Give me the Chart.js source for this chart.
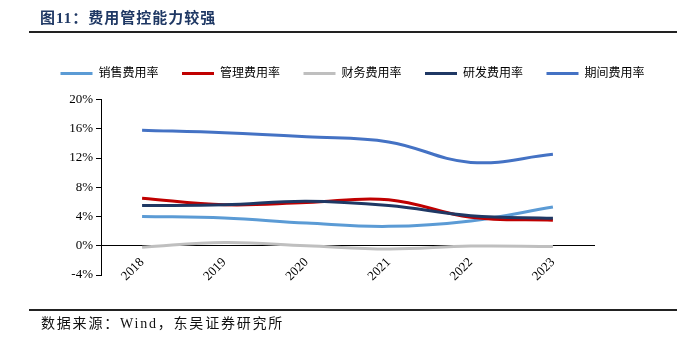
<!DOCTYPE html>
<html><head><meta charset="utf-8">
<script src="https://cdn.jsdelivr.net/npm/chart.js@4"></script>
<style>
html,body{margin:0;padding:0;background:#fff;}
#wrap{position:relative;width:677px;height:350px;overflow:hidden;}
#c{position:absolute;left:0;top:0;}
#title{position:absolute;left:40px;top:6px;font:bold 15px "Liberation Serif","Noto Sans CJK SC";letter-spacing:1px;color:#1F3864;white-space:nowrap;}
#l1{position:absolute;left:29px;top:31px;width:648px;height:2px;background:#222;}
#l2{position:absolute;left:29px;top:309px;width:648px;height:2px;background:#222;}
#foot{position:absolute;left:41px;top:312px;font:14px "Liberation Serif","Noto Sans CJK SC";letter-spacing:1.8px;color:#111;white-space:nowrap;}
</style></head>
<body><div id="wrap">
<canvas id="c" width="677" height="350"></canvas>
<div id="title">图11：费用管控能力较强</div>
<div id="l1"></div>
<div id="foot">数据来源：Wind，东吴证券研究所</div>
<div id="l2"></div>
</div>
<script>
const categories = ['2018','2019','2020','2021','2022','2023'];
const seriesNames = ['销售费用率','管理费用率','财务费用率','研发费用率','期间费用率'];
const salesRate   = [4.0, 3.8, 3.1, 2.65, 3.4, 5.3];
const adminRate   = [6.5, 5.6, 5.9, 6.3, 3.9, 3.5];
const financeRate = [-0.2, 0.45, 0.0, -0.45, -0.05, -0.1];
const rdRate      = [5.5, 5.6, 6.1, 5.5, 4.1, 3.75];
const periodRate  = [15.8, 15.45, 14.9, 14.2, 11.4, 12.5];
const yTicks = [-4, 0, 4, 8, 12, 16, 20];
const colors = ['#5B9BD5','#C00000','#BFBFBF','#1F3864','#4472C4'];
const values = [salesRate, adminRate, financeRate, rdRate, periodRate];

const font = '"Liberation Serif","Noto Sans CJK SC"';
const datasets = values.map((v,i)=>({
  label: seriesNames[i], data: v, borderColor: colors[i], backgroundColor: colors[i],
  borderWidth: 3, pointRadius: 0, tension: 0.4, fill: false, order: 10 - i, yAxisID: 'y'
}));

new Chart(document.getElementById('c'), {
  type: 'line',
  data: { labels: categories, datasets },
  options: {
    responsive: false, animation: false,
    layout: { padding: { left: 37, right: 0, top: 44, bottom: 75 } },
    plugins: {
      tooltip: { enabled: false },
      title: { display: false },
      subtitle: { display: true, text: '', position: 'top', weight: 500,
                  font: { size: 1, lineHeight: 1 }, padding: { top: 0, bottom: 9 } },
      legend: {
        position: 'top', align: 'start',
        labels: {
          boxWidth: 32, boxHeight: 3, padding: 23.5, color: '#000',
          font: { family: font, size: 12 },
          sort: (a,b)=>a.datasetIndex-b.datasetIndex,
          generateLabels: (chart)=>{
            const items = Chart.defaults.plugins.legend.labels.generateLabels(chart);
            items.forEach(it=>{ it.lineWidth = 0; it.fillStyle = it.strokeStyle; });
            return items;
          }
        }
      }
    },
    scales: {
      x: {
        position: { y: 0 }, offset: true,
        grid: { display: false },
        border: { display: true, color: '#000', width: 1 },
        ticks: { color: '#000', font: { family: font, size: 13 }, minRotation: 45, maxRotation: 45, padding: 1 }
      },
      y: {
        position: 'left', min: -4, max: 20,
        afterBuildTicks: (s)=>{ s.ticks = yTicks.map(v=>({value:v})); },
        afterFit: (s)=>{ s.width = 64; },
        grid: { drawOnChartArea: false, color: '#000', tickLength: 5 },
        border: { display: true, color: '#000', width: 1 },
        ticks: { color: '#000', font: { family: font, size: 13 }, padding: 3, callback: v=>v+'%' }
      },
      yRightSpace: {
        position: 'right', min: 0, max: 1, display: true,
        grid: { display: false }, border: { display: false },
        ticks: { display: false },
        afterFit: (s)=>{ s.width = 83; }
      }
    }
  }
});
</script>
</body></html>
